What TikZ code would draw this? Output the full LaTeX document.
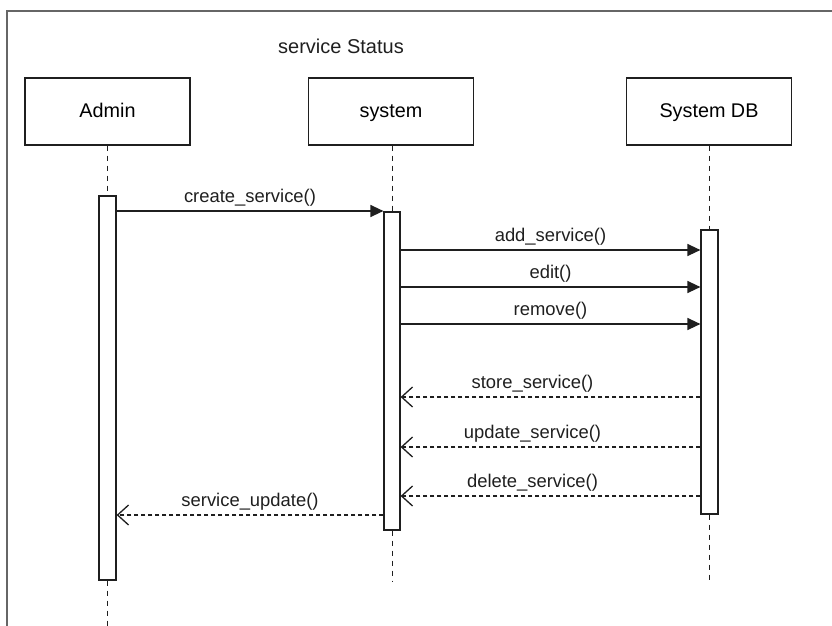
\documentclass[tikz,border=0pt]{standalone}
\usepackage{fontspec}
\setmainfont{Liberation Sans}
\usetikzlibrary{arrows.meta}

\definecolor{ink}{rgb}{0.12,0.12,0.12}
\definecolor{framegray}{rgb}{0.40,0.40,0.40}

\tikzset{
  lifebox/.style={draw=ink, line width=1.2pt, fill=white, minimum width=165pt,
    minimum height=67pt, inner sep=0pt, text height=1.45em, text depth=0.2em,
    font=\fontsize{19.8}{22}\selectfont},
  actbar/.style={draw=ink, line width=1.2pt, fill=white, minimum width=17pt,
    inner sep=0pt},
  lifeline/.style={draw=ink, line width=1pt, dash pattern=on 5pt off 5pt},
  callmsg/.style={draw=ink, line width=1.3pt,
    -{Triangle[length=13pt,width=12pt]}},
  replymsg/.style={draw=ink, line width=1.3pt, dash pattern=on 4pt off 3pt,
    -{Straight Barb[length=11pt,width=20pt,line width=1.3pt]}},
  msglabel/.style={above=4pt, inner sep=0pt, font=\fontsize{18.4}{20}\selectfont,
    text=ink},
  frameline/.style={draw=framegray, line width=1.6pt}
}

\begin{document}
\begin{tikzpicture}[x=1pt,y=-1pt]
  \useasboundingbox (0,0) rectangle (832,626);

  % enclosing frame (open to the right and bottom)
  \draw[frameline] (840,11) -- (7,11) -- (7,640);

  % title
  \node[font=\fontsize{20}{22}\selectfont, text=ink] (title) at (341,46) {service Status};

  % participants
  \node[lifebox] (admin) at (107.5,111.5) {Admin};
  \node[lifebox] (system) at (391,111.5) {system};
  \node[lifebox] (db) at (709,111.5) {System DB};

  % activation bars
  \node[actbar, minimum height=384pt] (aA) at (107.5,388) {};
  \node[actbar, minimum width=16pt, minimum height=318pt] (sA) at (392,371) {};
  \node[actbar, minimum height=284pt] (dA) at (709.5,372) {};

  % lifeline ends
  \coordinate (adminEnd) at (107.5,632);
  \coordinate (systemEnd) at (392,582);
  \coordinate (dbEnd) at (709.5,582);

  % lifelines
  \draw[lifeline] (admin.south) -- (aA.north);
  \draw[lifeline] (aA.south) -- (adminEnd);
  \draw[lifeline] (system.south -| sA.north) -- (sA.north);
  \draw[lifeline] (sA.south) -- (systemEnd);
  \draw[lifeline] (db.south -| dA.north) -- (dA.north);
  \draw[lifeline] (dA.south) -- (dbEnd);

  % message levels
  \coordinate (m1) at (0,211);
  \coordinate (m2) at (0,250);
  \coordinate (m3) at (0,287);
  \coordinate (m4) at (0,324);
  \coordinate (r1) at (0,397);
  \coordinate (r2) at (0,447);
  \coordinate (r3) at (0,496);
  \coordinate (r4) at (0,515);

  % calls
  \draw[callmsg] (aA.east |- m1) -- node[msglabel] {create\_service()} (sA.west |- m1);
  \draw[callmsg] (sA.east |- m2) -- node[msglabel] {add\_service()} (dA.west |- m2);
  \draw[callmsg] (sA.east |- m3) -- node[msglabel] {edit()} (dA.west |- m3);
  \draw[callmsg] (sA.east |- m4) -- node[msglabel] {remove()} (dA.west |- m4);

  % replies
  \draw[replymsg] (dA.west |- r1) -- node[msglabel, pos=0.56] {store\_service()} (sA.east |- r1);
  \draw[replymsg] (dA.west |- r2) -- node[msglabel, pos=0.56] {update\_service()} (sA.east |- r2);
  \draw[replymsg] (dA.west |- r3) -- node[msglabel, pos=0.56] {delete\_service()} (sA.east |- r3);
  \draw[replymsg] (sA.west |- r4) -- node[msglabel] {service\_update()} (aA.east |- r4);
\end{tikzpicture}
\end{document}
